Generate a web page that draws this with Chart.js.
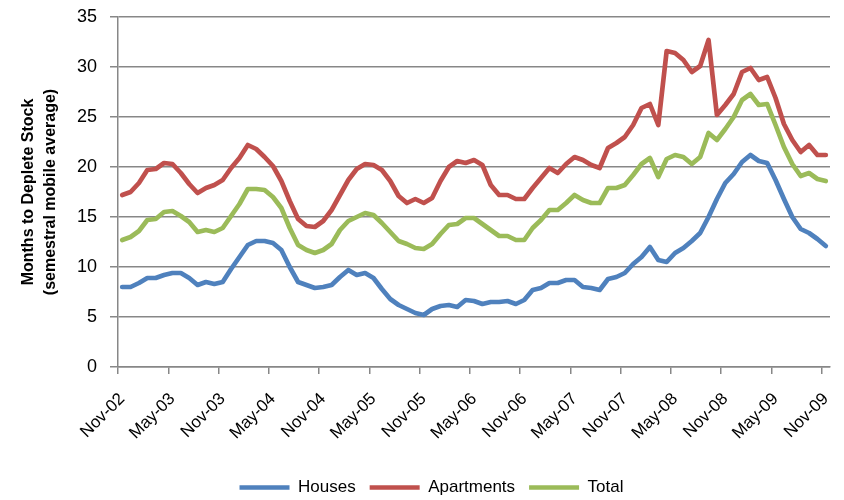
<!DOCTYPE html>
<html>
<head>
<meta charset="utf-8">
<script src="https://cdn.jsdelivr.net/npm/chart.js@4.4.1/dist/chart.umd.min.js"></script>
<style>
  body { margin: 0; background: #fff; }
  #wrap { width: 844px; height: 500px; }
</style>
</head>
<body>
<div id="wrap"><canvas id="line-chart"></canvas></div>
<script>
// monthly categories, Nov-02 .. Nov-09
const monthNames = ["Jan","Feb","Mar","Apr","May","Jun","Jul","Aug","Sep","Oct","Nov","Dec"];
const labels = [];
for (let k = 0; k < 85; k++) {
    let m = (10 + k) % 12;
    let y = 2 + Math.floor((10 + k) / 12);
    labels.push(monthNames[m] + "-" + String(y).padStart(2, "0"));
}

const houses = [
    8.0, 8.0, 8.4, 8.9, 8.9, 9.2, 9.4, 9.4, 8.9, 8.2, 8.5, 8.3, 8.5, 9.8, 11.0, 12.2, 12.6, 12.6, 12.4, 11.7,
    10.0, 8.5, 8.2, 7.9, 8.0, 8.2, 9.0, 9.7, 9.2, 9.4, 8.9, 7.8, 6.8, 6.2, 5.8, 5.4, 5.2, 5.8, 6.1, 6.2,
    6.0, 6.7, 6.6, 6.3, 6.5, 6.5, 6.6, 6.3, 6.7, 7.7, 7.9, 8.4, 8.4, 8.7, 8.7, 8.0, 7.9, 7.7, 8.8, 9.0,
    9.4, 10.3, 11.0, 12.0, 10.7, 10.5, 11.4, 11.9, 12.6, 13.4, 15.0, 16.8, 18.4, 19.3, 20.5, 21.2, 20.6, 20.4, 18.7, 16.8,
    15.0, 13.8, 13.4, 12.8, 12.1
];
const apartments = [
    17.2, 17.5, 18.4, 19.7, 19.8, 20.4, 20.3, 19.4, 18.3, 17.4, 17.9, 18.2, 18.7, 19.9, 20.9, 22.2, 21.8, 21.0, 20.1, 18.6,
    16.6, 14.8, 14.1, 14.0, 14.6, 15.7, 17.2, 18.7, 19.8, 20.3, 20.2, 19.7, 18.6, 17.1, 16.4, 16.8, 16.4, 16.9, 18.6, 20.0,
    20.6, 20.4, 20.7, 20.2, 18.2, 17.2, 17.2, 16.8, 16.8, 17.9, 18.9, 19.9, 19.4, 20.3, 21.0, 20.7, 20.2, 19.9, 21.9, 22.4,
    23.0, 24.2, 25.9, 26.3, 24.2, 31.6, 31.4, 30.7, 29.5, 30.1, 32.7, 25.2, 26.2, 27.3, 29.5, 29.9, 28.7, 29.0, 26.9, 24.3,
    22.7, 21.5, 22.2, 21.2, 21.2
];
const total = [
    12.7, 13.0, 13.6, 14.7, 14.8, 15.5, 15.6, 15.1, 14.5, 13.5, 13.7, 13.5, 13.9, 15.1, 16.3, 17.8, 17.8, 17.7, 17.0, 15.9,
    13.9, 12.2, 11.7, 11.4, 11.7, 12.3, 13.7, 14.6, 15.0, 15.4, 15.2, 14.4, 13.5, 12.6, 12.3, 11.9, 11.8, 12.3, 13.3, 14.2,
    14.3, 14.9, 14.9, 14.3, 13.7, 13.1, 13.1, 12.7, 12.7, 13.9, 14.7, 15.7, 15.7, 16.4, 17.2, 16.7, 16.4, 16.4, 17.9, 17.9,
    18.2, 19.2, 20.3, 20.9, 19.0, 20.8, 21.2, 21.0, 20.3, 21.0, 23.4, 22.7, 23.8, 25.0, 26.7, 27.3, 26.2, 26.3, 24.2, 22.0,
    20.3, 19.1, 19.4, 18.8, 18.6
];

const axisGray = "#878787";

Chart.defaults.font.family = "'Liberation Sans', Arial, sans-serif";
Chart.defaults.color = "#000";

let mkLine = function(label, color, data){
    return {
        label: label,
        data: data,
        borderColor: color,
        backgroundColor: color,
        borderWidth: 4.7,
        pointRadius: 0,
        tension: 0,
        fill: false,
        borderJoinStyle: 'round',
        borderCapStyle: 'round'
    };
};

const config = {
    type: 'line',
    data: {
        labels: labels,
        datasets: [
            mkLine('Houses', '#4F81BD', houses),
            mkLine('Apartments', '#C0504D', apartments),
            mkLine('Total', '#9BBB59', total)
        ]
    },
    options: {
        responsive: true,
        maintainAspectRatio: false,
        animation: false,
        layout: { padding: { left: 33, right: 14, top: 17, bottom: -6 } },
        plugins: {
            tooltip: { enabled: false },
            legend: {
                position: 'bottom',
                labels: {
                    usePointStyle: true,
                    pointStyle: 'line',
                    pointStyleWidth: 50,
                    padding: 14,
                    font: { size: 17 }
                }
            }
        },
        scales: {
            x: {
                type: 'category',
                offset: true,
                grid: {
                    offset: true,
                    drawOnChartArea: false,
                    tickLength: 7,
                    lineWidth: 1.5,
                    color: ctx => (ctx.index % 6 === 0) ? axisGray : 'rgba(0,0,0,0)'
                },
                border: { color: axisGray, width: 1.5 },
                ticks: {
                    autoSkip: false,
                    maxRotation: 45,
                    minRotation: 45,
                    padding: 15,
                    font: { size: 17 },
                    callback: function(v, i){ return i % 6 === 0 ? this.getLabelForValue(v) : ''; }
                },
                afterFit: s => { s.height = 98; s.paddingLeft = 0; s.paddingRight = 0; }
            },
            y: {
                min: 0,
                max: 35,
                ticks: { stepSize: 5, padding: 13, font: { size: 18 } },
                grid: { color: axisGray, lineWidth: 1.5, tickLength: 8 },
                border: { color: axisGray, width: 1.5 },
                title: {
                    display: true,
                    text: ['Months to Deplete Stock', '(semestral mobile average)'],
                    font: { size: 16, weight: 'bold', lineHeight: 1.4 },
                    padding: { top: -16, bottom: 0 }
                },
                afterFit: s => { s.width = 85; s.paddingTop = 0; s.paddingBottom = 0; }
            }
        }
    }
};

let myChart = new Chart(document.querySelector('#line-chart'), config);
</script>
</body>
</html>
